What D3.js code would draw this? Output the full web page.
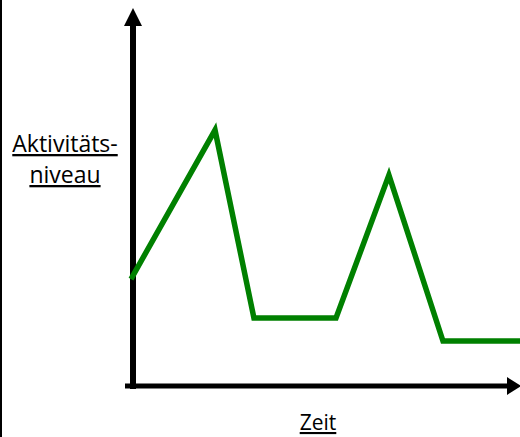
<!DOCTYPE html>
<html>
<head>
<meta charset="utf-8">
<script src="https://cdn.jsdelivr.net/npm/d3@7"></script>
<style>
  body { margin: 0; background: #fff; }
  text { font-family: "Open Sans", "Noto Sans", sans-serif; fill: #000; }
</style>
</head>
<body>
<script>
// time (0..100) and activity level (0..100)
var zeit = [0, 21.6, 31.6, 52.7, 66.3, 80.2, 100];
var aktivitaet = [28.3, 67.7, 18.0, 18.0, 55.8, 11.9, 11.9];
var yLabel = ["Aktivitäts-", "niveau"];
var xLabel = "Zeit";

var w = 520, h = 437;

var svg = d3.select("body").append("svg")
    .attr("width", w)
    .attr("height", h);

var x = d3.scaleLinear().domain([0, 100]).range([131, 520]);
var y = d3.scaleLinear().domain([0, 100]).range([386, 8]);

// frame line at left edge
svg.append("line")
    .attr("x1", 1).attr("x2", 1)
    .attr("y1", 0).attr("y2", h)
    .attr("stroke", "#000")
    .attr("stroke-width", 2);

// y axis with arrow
svg.append("line")
    .attr("x1", 133).attr("x2", 133)
    .attr("y1", 389).attr("y2", 24)
    .attr("stroke", "#000")
    .attr("stroke-width", 6);
svg.append("path")
    .attr("d", "M124,26 L133,8 L142,26 Z")
    .attr("fill", "#000");

// x axis with arrow
svg.append("line")
    .attr("x1", 125).attr("x2", 509)
    .attr("y1", 386).attr("y2", 386)
    .attr("stroke", "#000")
    .attr("stroke-width", 5);
svg.append("path")
    .attr("d", "M507,377 L521,386 L507,395 Z")
    .attr("fill", "#000");

// activity curve
var line = d3.line()
    .x(function (d, i) { return x(zeit[i]); })
    .y(function (d) { return y(d); });

svg.append("path")
    .datum(aktivitaet)
    .attr("d", line)
    .attr("fill", "none")
    .attr("stroke", "#008000")
    .attr("stroke-width", 5.5)
    .attr("stroke-linejoin", "miter");

// labels
var lab = svg.append("text")
    .attr("text-anchor", "middle")
    .style("font-size", "23px")
    .style("text-decoration", "underline");
lab.selectAll("tspan")
    .data(yLabel)
    .enter().append("tspan")
    .attr("x", 65)
    .attr("y", function (d, i) { return 152 + i * 31; })
    .text(function (d) { return d; });

svg.append("text")
    .attr("x", 318)
    .attr("y", 430)
    .attr("text-anchor", "middle")
    .style("font-size", "21px")
    .style("text-decoration", "underline")
    .text(xLabel);
</script>
</body>
</html>
